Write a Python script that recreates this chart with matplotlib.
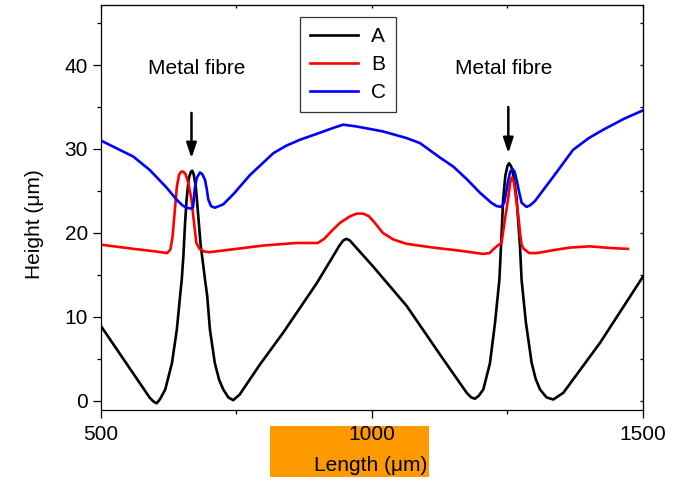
import matplotlib
matplotlib.use("Agg")
import matplotlib.pyplot as plt
from matplotlib.patches import Rectangle

plt.rcParams['font.family'] = ['Liberation Sans', 'DejaVu Sans']
plt.rcParams['font.size'] = 15

# curve A (black)
xa = [500, 590, 597, 602.7, 609, 618.6, 631, 640, 646, 649, 652, 655, 658, 662, 666, 668.5,
      671, 675, 679.5, 684, 688, 692, 696, 701, 710, 718, 725.6, 735, 744, 756, 793, 836,
      898, 928, 940, 947, 953, 959, 966, 1002, 1064, 1125.5, 1174.7, 1183, 1190, 1197, 1205.4,
      1217.7, 1227, 1235, 1238, 1242, 1246, 1250, 1253, 1257, 1262, 1267, 1273, 1276,
      1284, 1294.6, 1302, 1309.9, 1322, 1334.5, 1353, 1420.7, 1500]
ya = [8.9, 0.36, -0.1, -0.3, 0.2, 1.35, 4.5, 8.5, 12.5, 14.4, 17.2, 21.0, 24.0, 26.5, 27.3, 27.4,
      27.0, 25.5, 22.0, 18.5, 16.5, 14.4, 12.5, 8.5, 4.5, 2.5, 1.35, 0.4, 0.07, 0.75, 4.3, 8.1,
      14.0, 17.2, 18.5, 19.1, 19.3, 19.1, 18.6, 16.0, 11.3, 5.5, 0.95, 0.4, 0.24, 0.6, 1.35,
      4.5, 9.3, 14.4, 18.4, 24.0, 26.8, 28.0, 28.3, 27.9, 26.5, 24.0, 18.4, 14.4,
      9.3, 4.5, 2.6, 1.35, 0.4, 0.15, 0.95, 6.9, 14.8]

# curve B (red)
xb = [500, 560, 600, 622, 628, 632, 636, 640, 644, 648, 652, 656, 661, 667, 672, 676, 682,
      690, 700, 750, 800, 860, 900, 912, 925, 941, 960, 972, 984, 994, 1004, 1020, 1040,
      1064, 1113, 1160, 1205, 1217, 1223, 1232, 1239, 1245, 1251, 1255, 1258, 1262, 1266,
      1270, 1274, 1276, 1280, 1290, 1304, 1340, 1365, 1402, 1440, 1472]
yb = [18.6, 18.1, 17.8, 17.6, 18.0, 19.5, 22.5, 25.5, 26.9, 27.3, 27.3, 27.0, 26.0, 24.0,
      21.0, 18.8, 18.1, 17.8, 17.7, 18.1, 18.5, 18.8, 18.8, 19.3, 20.2, 21.2, 22.0, 22.3,
      22.3, 22.0, 21.3, 20.0, 19.2, 18.7, 18.25, 17.9, 17.5, 17.6, 18.0, 18.5, 18.8, 21.5,
      24.0, 26.0, 26.6, 26.0, 24.0, 22.0, 19.5, 18.6, 18.1, 17.6, 17.6, 18.0, 18.25, 18.4,
      18.2, 18.1]

# curve C (blue)
xc = [500, 559.6, 590, 621, 639, 650, 658, 666, 670, 673, 677, 682.7, 687, 692, 695, 698,
      703, 710, 725.6, 744, 775, 818, 842, 867, 898, 928, 947, 970, 1020, 1064, 1088.6, 1125,
      1150, 1175, 1199, 1220, 1230, 1238, 1244, 1248, 1251.5, 1255, 1259.6, 1263, 1267,
      1271, 1276, 1285, 1292, 1300.7, 1334.5, 1371, 1400, 1426.7, 1465, 1500]
yc = [31.0, 29.1, 27.5, 25.4, 24.0, 23.3, 23.0, 22.9, 23.1, 25.3, 26.6, 27.2, 27.0, 26.3,
      25.3, 24.0, 23.2, 23.0, 23.4, 24.6, 26.9, 29.5, 30.4, 31.1, 31.8, 32.5, 32.9, 32.7, 32.1,
      31.3, 30.7, 29.0, 27.9, 26.4, 24.8, 23.6, 23.2, 23.1, 23.6, 25.0, 26.3, 27.3, 27.6,
      27.3, 26.3, 25.0, 23.6, 23.1, 23.3, 23.8, 26.7, 29.9, 31.3, 32.3, 33.6, 34.6]

labels = ['A', 'B', 'C']
fibre_x = [667, 1251.5]
fibre_text_x = [676, 1243.5]

fig = plt.figure(figsize=(6.85, 4.86), dpi=100)
ax = fig.add_axes([0.1474, 0.1564, 0.7913, 0.8323])

# orange box sitting behind the x label
fig.add_artist(Rectangle((0.394, 0.0191), 0.232, 0.1043, transform=fig.transFigure,
                         facecolor='#FF9900', edgecolor='none', zorder=-1))

lw = 1.9
ax.plot(xa, ya, color='black', lw=lw, label=labels[0], solid_joinstyle='round')
ax.plot(xb, yb, color='#FF0000', lw=lw, label=labels[1], solid_joinstyle='round')
ax.plot(xc, yc, color='#0000FF', lw=lw, label=labels[2], solid_joinstyle='round')

ax.set_xlim(500, 1500)
ax.set_ylim(-1.1, 47.1)
ax.set_xticks([500, 1000, 1500])
ax.set_xticks([750, 1250], minor=True)
ax.set_yticks([0, 10, 20, 30, 40])
ax.set_yticks([5, 15, 25, 35, 45], minor=True)
ax.tick_params(which='major', direction='out', length=5.5, width=0.9)
ax.tick_params(which='minor', direction='out', length=2.7, width=0.9)
ax.tick_params(axis='x', pad=5)
ax.tick_params(axis='y', pad=4)
for s in ax.spines.values():
    s.set_linewidth(0.9)

# mirrored inward ticks on top and right
sy = ax.secondary_yaxis('right')
sy.set_yticks([0, 5, 10, 15, 20, 25, 30, 35, 40, 45])
sy.tick_params(direction='in', length=2.5, width=0.9, labelright=False)
sx = ax.secondary_xaxis('top')
sx.set_xticks([500, 750, 1000, 1250, 1500])
sx.tick_params(direction='in', length=2.5, width=0.9, labeltop=False)

ax.set_xlabel('Length (\u03bcm)')
ax.set_ylabel('Height (\u03bcm)')
ax.xaxis.set_label_coords(0.498, -0.113)
ax.yaxis.set_label_coords(-0.105, 0.459)

for xt in fibre_text_x:
    ax.text(xt, 38.9, 'Metal fibre', ha='center', va='baseline')
for xf, top, tip in zip(fibre_x, [34.3, 35.0], [28.9, 29.5]):
    ax.annotate('', xy=(xf, tip), xytext=(xf, top),
                arrowprops=dict(arrowstyle='-|>,head_length=0.6,head_width=0.2',
                                color='black', lw=1.8, mutation_scale=15,
                                shrinkA=0, shrinkB=0))

leg = ax.legend(loc='upper left', bbox_to_anchor=(300 / 685, 1 - 17 / 486),
                bbox_transform=fig.transFigure, borderaxespad=0, fancybox=False,
                handlelength=2.3, handletextpad=0.6, labelspacing=0.42,
                borderpad=0.5, framealpha=1)
leg.get_frame().set_edgecolor('#333333')
leg.get_frame().set_linewidth(0.9)

fig.savefig('out.png', dpi=100)
